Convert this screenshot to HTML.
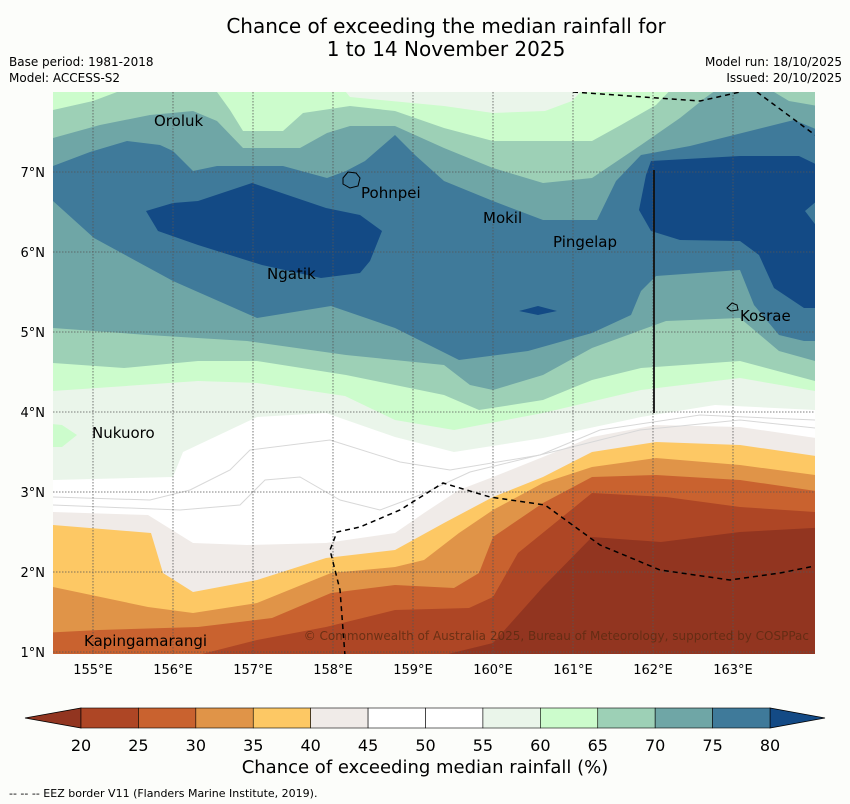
<!DOCTYPE html>
<html><head><meta charset="utf-8"><style>
body{margin:0;background:#fcfdfa;font-family:"Liberation Sans","DejaVu Sans",sans-serif;}
svg{display:block}
text{font-family:"DejaVu Sans","Liberation Sans",sans-serif}
</style></head><body>
<svg width="850" height="804" viewBox="0 0 850 804">
<rect x="0" y="0" width="850" height="804" fill="#fcfdfa"/>
<text x="446" y="33" font-size="20" text-anchor="middle">Chance of exceeding the median rainfall for</text>
<text x="446" y="56" font-size="20" text-anchor="middle">1 to 14 November 2025</text>
<text x="9" y="66" font-size="12">Base period: 1981-2018</text>
<text x="9" y="82" font-size="12">Model: ACCESS-S2</text>
<text x="842" y="66" font-size="12" text-anchor="end">Model run: 18/10/2025</text>
<text x="842" y="82" font-size="12" text-anchor="end">Issued: 20/10/2025</text>
<defs><clipPath id="mc"><rect x="53" y="92" width="762" height="562"/></clipPath></defs>
<g clip-path="url(#mc)">
<rect x="53" y="92" width="762" height="562" fill="#ffffff"/>
<path fill="#eaf5ea" d="M40,80 L830,80 L830,410 L815,410 L715,405 L641,417 L543,438 L454,452 L395,437 L326,413 L257,417 L183,452 L173,477 L53,480 L40,480 Z"/>
<path fill="#ccfccc" d="M40,80 L336,80 L350,97 L444,106 L493,113 L545,111 L572,101 L592,80 L830,80 L830,391 L815,391 L740,378 L641,390 L543,413 L454,430 L395,420 L345,396 L257,383 L198,381 L53,391 L40,391 Z M40,423 L62,425 L77,435 L62,447 L40,447 Z"/>
<path fill="#9dd0b6" d="M40,110 L53,110 L93,101 L117,92 L217,92 L230,110 L243,131 L283,131 L303,113 L350,106 L395,111 L444,128 L493,141 L592,141 L621,125 L656,105 L680,80 L830,80 L830,381 L815,381 L740,361 L641,368 L592,380 L543,400 L479,410 L444,395 L346,375 L257,361 L198,361 L124,368 L53,363 L40,363 Z"/>
<path fill="#6fa6a6" d="M40,138 L53,138 L100,125 L150,115 L193,111 L217,121 L243,148 L300,148 L327,133 L350,126 L395,126 L444,148 L493,168 L543,183 L592,178 L641,145 L680,118 L705,98 L730,80 L754,80 L789,101 L830,108 L830,361 L815,361 L779,351 L740,318 L666,321 L592,348 L543,375 L493,390 L470,385 L444,365 L346,355 L247,341 L148,335 L53,328 L40,328 Z"/>
<path fill="#3f7a9a" d="M40,166 L53,166 L90,152 L127,141 L160,145 L173,151 L193,171 L217,166 L283,166 L327,178 L346,171 L365,161 L395,135 L415,155 L444,181 L493,201 L543,220 L597,220 L616,181 L641,155 L690,146 L750,131 L794,120 L830,135 L830,341 L804,341 L779,335 L754,305 L740,270 L656,276 L641,291 L631,315 L592,333 L528,351 L459,360 L395,328 L331,306 L257,318 L173,281 L94,238 L53,201 L40,201 Z"/>
<path fill="#134a85" d="M146,211 L173,203 L198,201 L252,183 L326,208 L360,215 L382,231 L370,261 L360,273 L321,278 L262,265 L198,245 L158,231 Z"/>
<path fill="#134a85" d="M651,161 L740,156 L799,156 L830,171 L830,200 L818,200 L805,211 L818,228 L830,228 L830,308 L804,308 L774,288 L759,255 L740,241 L680,240 L651,231 L639,210 L646,175 Z"/>
<path fill="#134a85" d="M519,311 L538,306 L557,311 L538,315 Z"/>
<path fill="#f0ebe8" d="M40,512 L53,512 L148,515 L193,543 L247,545 L326,543 L395,533 L424,513 L459,490 L493,477 L543,457 L592,437 L656,425 L740,427 L830,440 L830,670 L40,670 Z"/>
<path fill="#fdc864" d="M40,525 L53,525 L151,533 L163,573 L193,592 L257,580 L326,558 L395,550 L444,523 L493,497 L543,477 L592,452 L656,442 L740,445 L830,458 L830,670 L40,670 Z"/>
<path fill="#e09448" d="M40,587 L53,587 L148,607 L193,613 L257,603 L331,573 L395,567 L424,560 L459,533 L493,510 L543,483 L592,467 L656,458 L740,465 L830,477 L830,670 L40,670 Z"/>
<path fill="#c9622f" d="M40,633 L99,630 L198,627 L272,618 L331,593 L395,585 L454,588 L479,573 L493,537 L543,503 L592,477 L656,475 L740,480 L830,493 L830,670 L40,670 Z"/>
<path fill="#ae4625" d="M198,670 L198,655 L257,640 L326,627 L395,610 L469,608 L493,597 L518,553 L592,493 L666,497 L740,507 L830,513 L830,670 Z"/>
<path fill="#923520" d="M444,670 L444,655 L493,643 L543,587 L592,537 L661,542 L740,532 L830,527 L830,670 Z"/>
<g fill="none" stroke="#d8d8d8" stroke-width="1">
<path d="M53,497 L150,500 L190,490 L230,470 L250,450 L330,440 L400,462 L450,470 L540,455 L600,430 L700,415 L815,420"/>
<path d="M53,505 L180,510 L240,505 L265,480 L300,477 L340,500 L380,510 L420,495 L470,472 L560,450 L640,430 L740,420 L815,428"/>
</g>
<g stroke="#555" stroke-width="0.8" stroke-dasharray="1.5,1.5">
<line x1="93" y1="92" x2="93" y2="654"/><line x1="173" y1="92" x2="173" y2="654"/><line x1="253" y1="92" x2="253" y2="654"/><line x1="333" y1="92" x2="333" y2="654"/><line x1="413" y1="92" x2="413" y2="654"/><line x1="493" y1="92" x2="493" y2="654"/><line x1="573" y1="92" x2="573" y2="654"/><line x1="653" y1="92" x2="653" y2="654"/><line x1="733" y1="92" x2="733" y2="654"/>
<line x1="53" y1="172" x2="815" y2="172"/><line x1="53" y1="252" x2="815" y2="252"/><line x1="53" y1="332" x2="815" y2="332"/><line x1="53" y1="412" x2="815" y2="412"/><line x1="53" y1="492" x2="815" y2="492"/><line x1="53" y1="572" x2="815" y2="572"/><line x1="53" y1="652" x2="815" y2="652"/>
</g>
<g fill="none" stroke="#000" stroke-width="1.5" stroke-dasharray="5,4">
<path d="M573,92 L700,101 L740,92"/>
<path d="M757,92 L815,135"/>
<path d="M345,656 L340,590 L330,550 L337,532 L360,527 L400,510 L443,483 L490,497 L545,505 L600,545 L660,570 L730,580 L780,573 L815,566"/>
</g>
<line x1="654" y1="170" x2="654" y2="413" stroke="#111" stroke-width="1.8"/>
<path d="M343,178 L348,172 L356,173 L360,178 L358,186 L350,188 L343,184 Z" fill="none" stroke="#000" stroke-width="1"/>
<path d="M727,308 L732,303 L737,305 L738,310 L731,311 Z" fill="none" stroke="#000" stroke-width="1"/>
<g font-size="15" fill="#000">
<text x="154" y="126">Oroluk</text>
<text x="361" y="198">Pohnpei</text>
<text x="483" y="223">Mokil</text>
<text x="553" y="247">Pingelap</text>
<text x="267" y="279">Ngatik</text>
<text x="740" y="321">Kosrae</text>
<text x="92" y="438">Nukuoro</text>
<text x="84" y="646">Kapingamarangi</text>
</g>
<text x="809" y="640" font-size="12" text-anchor="end" fill="#5a2a10" fill-opacity="0.8">© Commonwealth of Australia 2025, Bureau of Meteorology, supported by COSPPac</text>
</g>
<g font-size="13" fill="#000">
<text x="45" y="177" text-anchor="end">7°N</text><text x="45" y="257" text-anchor="end">6°N</text><text x="45" y="337" text-anchor="end">5°N</text><text x="45" y="417" text-anchor="end">4°N</text><text x="45" y="497" text-anchor="end">3°N</text><text x="45" y="577" text-anchor="end">2°N</text><text x="45" y="657" text-anchor="end">1°N</text>
</g>
<g font-size="13" fill="#000" text-anchor="middle">
<text x="93" y="674">155°E</text><text x="173" y="674">156°E</text><text x="253" y="674">157°E</text><text x="333" y="674">158°E</text><text x="413" y="674">159°E</text><text x="493" y="674">160°E</text><text x="573" y="674">161°E</text><text x="653" y="674">162°E</text><text x="733" y="674">163°E</text>
</g>
<g id="cbar"></g>
<text x="425" y="773" font-size="18" text-anchor="middle">Chance of exceeding median rainfall (%)</text>
<text x="9" y="797" font-size="11">--  --  -- EEZ border V11 (Flanders Marine Institute, 2019).</text>
</svg>
<script>
const levels=[20,25,30,35,40,45,50,55,60,65,70,75,80];
const bandColors=["#ae4625","#c9622f","#e09448","#fdc864","#f0ebe8","#ffffff","#ffffff","#eaf5ea","#ccfccc","#9dd0b6","#6fa6a6","#3f7a9a"];
const underColor="#923520";
const overColor="#134a85";
const tickLabels=["20","25","30","35","40","45","50","55","60","65","70","75","80"];
(function(){
const ns="http://www.w3.org/2000/svg";
const g=document.getElementById('cbar');
const x0=81,x1=770,y0=708,h=20;
const sx=v=>x0+(v-levels[0])/(levels[levels.length-1]-levels[0])*(x1-x0);
function mk(t,a){const e=document.createElementNS(ns,t);for(const k in a)e.setAttribute(k,a[k]);g.appendChild(e);return e;}
const under=mk('polygon',{points:`25,${y0+h/2} ${x0},${y0} ${x0},${y0+h}`,fill:underColor,stroke:'#000','stroke-width':0.8});


const over=mk('polygon',{points:`825,${y0+h/2} ${x1},${y0} ${x1},${y0+h}`,fill:overColor,stroke:'#000','stroke-width':0.8});


for(let i=0;i<bandColors.length;i++){
 const r=mk('rect',{x:sx(levels[i]),y:y0,width:sx(levels[i+1])-sx(levels[i]),height:h,fill:bandColors[i],stroke:'#000','stroke-width':0.6});
 
 
}
for(let i=0;i<levels.length;i++){
 const t=mk('text',{x:sx(levels[i]),y:751,'font-size':16,'text-anchor':'middle'});
 t.textContent=tickLabels[i];
 
 
}
})();
</script>
</body></html>
